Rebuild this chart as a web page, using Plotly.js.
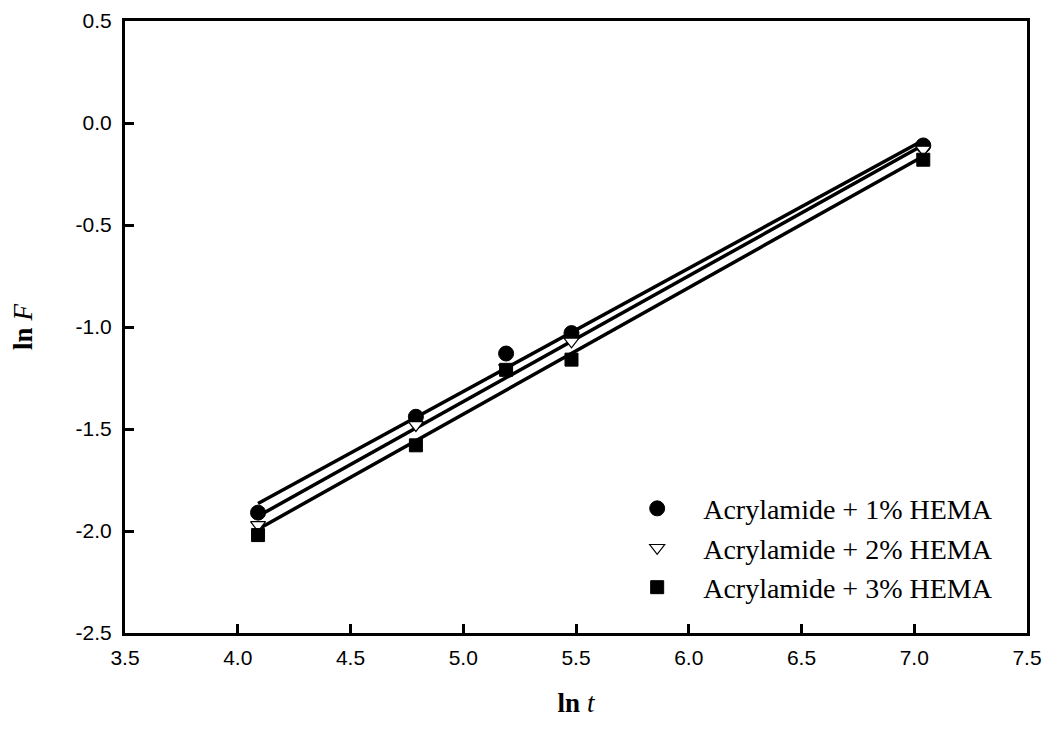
<!DOCTYPE html>
<html>
<head>
<meta charset="utf-8">
<script src="https://cdn.plot.ly/plotly-3.0.1.min.js"></script>
<style>
  html, body { margin: 0; padding: 0; background: #fff; }
  #chart { width: 1048px; height: 736px; }
</style>
</head>
<body>
<div id="chart"></div>
<script>
// ln t values of the sampling times
const lnT = [4.09, 4.79, 5.19, 5.48, 7.04];

// ln F for each acrylamide / HEMA composition
const hema1 = [-1.91, -1.44, -1.13, -1.03, -0.11];
const hema2 = [-1.97, -1.48, -1.20, -1.07, -0.13];
const hema3 = [-2.02, -1.58, -1.21, -1.16, -0.18];

const seriesNames = [
  'Acrylamide + 1% HEMA',
  'Acrylamide + 2% HEMA',
  'Acrylamide + 3% HEMA'
];

// axis ticks
const xTickVals = [3.5, 4.0, 4.5, 5.0, 5.5, 6.0, 6.5, 7.0, 7.5];
const xTickText = ['3.5', '4.0', '4.5', '5.0', '5.5', '6.0', '6.5', '7.0', '7.5'];
const yTickVals = [0.5, 0.0, -0.5, -1.0, -1.5, -2.0, -2.5];
const yTickText = ['0.5', '0.0', '-0.5', '-1.0', '-1.5', '-2.0', '-2.5'];

// least-squares line through a series, spanning its x range
function fitLine(xs, ys) {
  const n = xs.length;
  const mx = xs.reduce((a, b) => a + b, 0) / n;
  const my = ys.reduce((a, b) => a + b, 0) / n;
  let sxy = 0, sxx = 0;
  for (let i = 0; i < n; i++) {
    sxy += (xs[i] - mx) * (ys[i] - my);
    sxx += (xs[i] - mx) * (xs[i] - mx);
  }
  const slope = sxy / sxx;
  const x0 = Math.min(...xs), x1 = Math.max(...xs);
  return {
    x: [x0, x1],
    y: [my + slope * (x0 - mx), my + slope * (x1 - mx)]
  };
}

const seriesY = [hema1, hema2, hema3];
const markers = [
  { symbol: 'circle', size: 15, color: '#000', line: { color: '#000', width: 1 } },
  { symbol: 'triangle-down', size: 13, color: '#fff', line: { color: '#000', width: 1.2 } },
  { symbol: 'square', size: 13, color: '#000', line: { color: '#000', width: 1 } }
];

const traces = [];
seriesY.forEach((ys) => {
  const f = fitLine(lnT, ys);
  traces.push({
    x: f.x, y: f.y, mode: 'lines', type: 'scatter',
    line: { color: '#000', width: 3.5 }, showlegend: false, hoverinfo: 'skip'
  });
});
seriesY.forEach((ys, i) => {
  traces.push({
    x: lnT, y: ys, mode: 'markers', type: 'scatter',
    name: seriesNames[i], marker: markers[i]
  });
});

const tickFont = { family: 'Liberation Sans, Arial, sans-serif', size: 21, color: '#000' };
const titleFont = { family: 'Liberation Serif, Times New Roman, serif', size: 27, color: '#000' };

const layout = {
  width: 1048, height: 736,
  paper_bgcolor: '#fff', plot_bgcolor: '#fff',
  margin: { l: 125, r: 21, t: 21, b: 103 },
  showlegend: true,
  legend: {
    x: 0.539, y: 0.244, xanchor: 'left', yanchor: 'top',
    bgcolor: 'rgba(0,0,0,0)',
    font: { family: 'Liberation Serif, Times New Roman, serif', size: 28, color: '#000' },
    itemwidth: 82,
    tracegroupgap: 0
  },
  xaxis: {
    range: [3.5, 7.5],
    tickvals: xTickVals, ticktext: xTickText,
    ticks: 'inside', ticklen: 9, tickwidth: 3, tickcolor: '#000',
    showline: true, linewidth: 3, linecolor: '#000', mirror: true,
    showgrid: false, zeroline: false,
    tickfont: tickFont, ticklabelstandoff: 4,
    title: { text: '<b>ln</b> <i>t</i>', font: titleFont, standoff: 25 }
  },
  yaxis: {
    range: [-2.5, 0.5],
    tickvals: yTickVals, ticktext: yTickText,
    ticks: 'inside', ticklen: 9, tickwidth: 3, tickcolor: '#000',
    showline: true, linewidth: 3, linecolor: '#000', mirror: true,
    showgrid: false, zeroline: false,
    tickfont: tickFont, ticklabelstandoff: 6,
    title: { text: '<b>ln</b> <i>F</i>', font: titleFont, standoff: 36 }
  }
};

Plotly.newPlot('chart', traces, layout, { staticPlot: true, displayModeBar: false });
</script>
</body>
</html>
